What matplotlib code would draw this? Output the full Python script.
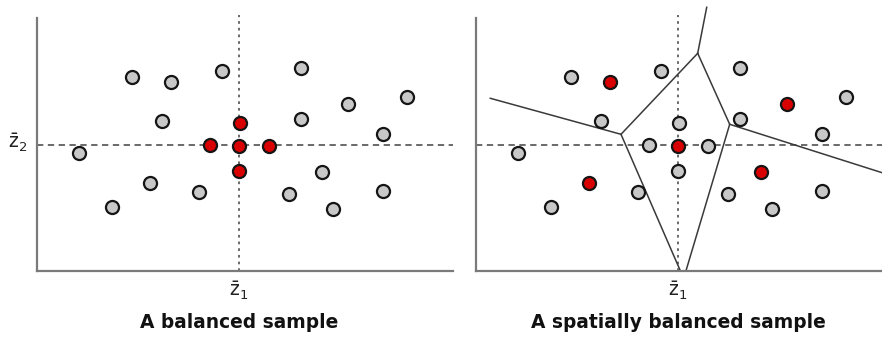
import matplotlib
matplotlib.use("Agg")
import matplotlib.pyplot as plt

plt.rcParams['mathtext.fontset'] = 'dejavusans'
plt.rcParams['font.family'] = ['DejaVu Sans']

# Population of units in (z1, z2) space (arbitrary units)
z1 = [95.3, 133.7, 185.3, 264.0, 311.0, 370.0, 125.3, 264.0, 346.0, 41.7,
      112.7, 161.7, 75.3, 252.0, 285.0, 296.3, 346.0,
      202.7, 172.7, 201.7, 232.0, 202.3]
z2 = [193.7, 189.0, 200.0, 202.4, 166.4, 173.4, 149.4, 152.0, 137.0, 117.4,
      87.7, 78.7, 64.0, 76.4, 98.7, 61.7, 79.7,
      148.0, 125.4, 124.7, 124.7, 99.4]
z1_mean = 202.0
z2_mean = 125.7

# Samples (indices into the population)
balanced_idx = [17, 18, 19, 20, 21]
spatial_idx = [1, 4, 19, 10, 14]

# Voronoi-like partition edges (right panel), as (z1, z2) segment end points
vor_x = [[14.3, 145.0], [145.0, 221.7], [221.7, 230.7], [221.7, 253.7],
         [253.7, 430.0], [145.0, 204.3], [253.7, 210.0]]
vor_y = [[172.4, 136.4], [136.4, 217.4], [217.4, 263.4], [217.4, 146.4],
         [146.4, 90.4], [136.4, 0.0], [146.4, 0.0]]

titles = ["A balanced sample", "A spatially balanced sample"]

W, H = 882, 337
fig = plt.figure(figsize=(W / 100, H / 100), dpi=100)
axw = 416 / W
axb = (H - 270.7) / H
axh = (270.7 - 18) / H
ax1 = fig.add_axes([37 / W, axb, axw, axh])
ax2 = fig.add_axes([476 / W, axb, axw, axh])

GRAY = '#c8c8c8'
RED = '#d80000'
SPINE = '#7a7a7a'
DASH = '#5e5e5e'

for ax, idx, title in [(ax1, balanced_idx, titles[0]), (ax2, spatial_idx, titles[1])]:
    ax.set_xlim(0, 416)
    ax.set_ylim(0, 252.7)
    for s in ['top', 'right']:
        ax.spines[s].set_visible(False)
    for s in ['left', 'bottom']:
        ax.spines[s].set_color(SPINE)
        ax.spines[s].set_linewidth(1.6)
    ax.set_xticks([])
    ax.set_yticks([])
    ax.patch.set_alpha(0)
    ax.plot([0, 416], [z2_mean, z2_mean], color=DASH, lw=1.3,
            linestyle=(0, (3.5, 2.5)), zorder=1)
    ax.plot([z1_mean, z1_mean], [0, 256], color=DASH, lw=1.3,
            linestyle=(0, (1.5, 2.2)), zorder=1, clip_on=False)
    gx = [z1[i] for i in range(len(z1)) if i not in idx]
    gy = [z2[i] for i in range(len(z2)) if i not in idx]
    rx = [z1[i] for i in idx]
    ry = [z2[i] for i in idx]
    ax.plot(gx, gy, 'o', ms=9.4, mfc=GRAY, mec='#151515', mew=1.6, zorder=3,
            clip_on=False)
    ax.plot(rx, ry, 'o', ms=9.4, mfc=RED, mec='#151515', mew=1.6, zorder=4,
            clip_on=False)
    ax.text(z1_mean, -20, r'$\bar{\mathrm{z}}_1$', ha='center', va='center',
            fontsize=13.5, color='#222222')
    ax.text(z1_mean, -52, title, ha='center', va='center', fontsize=13.4,
            fontweight='bold', color='#111111')

ax1.text(-19, z2_mean + 2, r'$\bar{\mathrm{z}}_2$', ha='center', va='center',
         fontsize=13.5, color='#222222', clip_on=False)

for xs, ys in zip(vor_x, vor_y):
    ax2.plot(xs, ys, color='#3a3a3a', lw=1.1, zorder=2, clip_on=False)

fig.savefig('out.png', dpi=100)
